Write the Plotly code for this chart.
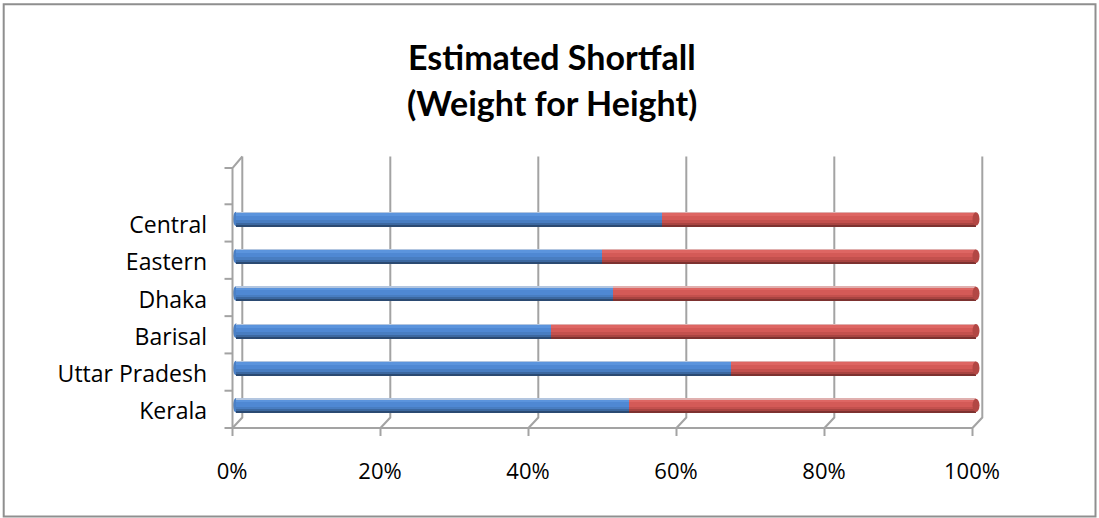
import plotly.graph_objects as go

# ---- data -------------------------------------------------------------
categories = ["Kerala", "Uttar Pradesh", "Barisal", "Dhaka", "Eastern", "Central"]
series_1 = [53.1, 66.9, 42.6, 50.9, 49.5, 57.5]     # blue segment (%)
series_2 = [46.9, 33.1, 57.4, 49.1, 50.5, 42.5]     # red segment (%)
x_ticks = [0, 20, 40, 60, 80, 100]
x_tick_labels = ["0%", "20%", "40%", "60%", "80%", "100%"]
title_lines = ["Estimated Shortfall", "(Weight for Height)"]

# ---- geometry ---------------------------------------------------------
W, H = 1099, 518
# pixel placement of the bar plane
X0_PX, X100_PX = 236.0, 976.0          # 0% and 100% of the bars
SLOT_PX = 37.286                       # height of one category slot
TOP_SLOT_PX = 163.0                    # pixel row of y = 6.5 (top of slots)
PX_X = (X100_PX - X0_PX) / 100.0
PX_Y = SLOT_PX

# the plotting rectangle is a little larger than the bar plane so the
# walls, floor and tick marks of the 3-D frame fit inside it
PL, PR, PT, PB = 222, 988, 150, 442
X_RANGE = [(PL - X0_PX) / PX_X, 100 + (PR - X100_PX) / PX_X]
Y_RANGE = [6.5 - (PB - TOP_SLOT_PX) / PX_Y, 6.5 + (TOP_SLOT_PX - PT) / PX_Y]
ML, MR, MT, MB = PL, W - PR, PT, H - PB
PW, PH = PR - PL, PB - PT


def dx(px):
    return px / PX_X


def dy(px):
    return px / PX_Y


# depth offsets (pixels) of the front and back planes relative to the bars
FRONT = (-3.5, -4.0)
BACK = (6.3, 6.5)
GRID = "#a3a3a3"
GRID_W = 2

ypos = list(range(len(categories)))
bar_px = 14.5
half = dy(bar_px) / 2

# cylinder shading, top to bottom: (thickness px, colour)
blue_bands = [(1.5, "#b3c6e0"), (2.5, "#5b94dd"), (4.5, "#4f88d3"),
              (2.5, "#487dc1"), (2.0, "#3c68a0"), (1.5, "#2b4a72")]
red_bands = [(1.5, "#e0b0af"), (2.5, "#de6663"), (4.5, "#d45a57"),
             (2.5, "#c3504d"), (2.0, "#a84441"), (1.5, "#7d3230")]

fig = go.Figure()


def add_cylinder(values, bases, bands, name):
    top = half
    for thick, colour in bands:
        w = dy(thick)
        fig.add_trace(go.Bar(
            orientation="h", y=ypos, x=values, base=bases,
            width=w, offset=top - w,
            marker=dict(color=colour, line=dict(width=0)),
            name=name, showlegend=False, hoverinfo="x+y",
        ))
        top -= w


add_cylinder(series_1, [0] * len(series_1), blue_bands, "Series 1")
add_cylinder(series_2, series_1, red_bands, "Series 2")

shapes = []

# rounded ends of the cylinders
for i, (a, b) in enumerate(zip(series_1, series_2)):
    shapes.append(dict(type="circle", xref="x", yref="y", xsizemode="pixel",
                       xanchor=0, x0=-3, x1=3, y0=i - half, y1=i + half,
                       fillcolor="#4a80c6", line=dict(width=0), layer="below"))
    shapes.append(dict(type="circle", xref="x", yref="y", xsizemode="pixel",
                       xanchor=a + b, x0=-3.5, x1=3.5, y0=i - half * 0.92,
                       y1=i + half * 0.92, fillcolor="#b24744",
                       line=dict(width=0), layer="above"))

y_lo, y_hi = -0.5, 6.5
fy_lo, fy_hi = y_lo + dy(FRONT[1]), y_hi + dy(FRONT[1]) - dy(1)
by_lo, by_hi = y_lo + dy(BACK[1]), y_hi + dy(BACK[1])

# back-wall gridlines, floor diagonals and front tick marks
for v in x_ticks:
    fx, bx = v + dx(FRONT[0]), v + dx(BACK[0])
    shapes.append(dict(type="path", xref="x", yref="y",
                       path=f"M {fx},{fy_lo - dy(8)} L {fx},{fy_lo} "
                            f"L {bx},{by_lo} L {bx},{by_hi}",
                       line=dict(color=GRID, width=GRID_W), layer="below"))

# front edge of the floor
shapes.append(dict(type="line", xref="x", yref="y",
                   x0=0 + dx(FRONT[0]), x1=100 + dx(FRONT[0]),
                   y0=fy_lo, y1=fy_lo, line=dict(color=GRID, width=GRID_W),
                   layer="below"))

# side wall: front axis line and top edge
fx0, bx0 = 0 + dx(FRONT[0]), 0 + dx(BACK[0])
shapes.append(dict(type="path", xref="x", yref="y",
                   path=f"M {fx0},{fy_lo} L {fx0},{fy_hi} L {bx0},{by_hi}",
                   line=dict(color=GRID, width=GRID_W), layer="below"))

# category tick marks on the front axis
for k in range(len(categories) + 2):
    yk = y_lo + k + dy(FRONT[1])
    if k == len(categories) + 1:
        yk = fy_hi
    shapes.append(dict(type="line", xref="x", yref="y",
                       x0=fx0 - dx(8), x1=fx0, y0=yk, y1=yk,
                       line=dict(color=GRID, width=GRID_W), layer="below"))


# outer chart border (paper coordinates from pixel positions)
def px_paper_x(px):
    return (px - ML) / PW


def px_paper_y(py):
    return (PB - py) / PH


shapes.append(dict(type="rect", xref="paper", yref="paper",
                   x0=px_paper_x(3.7), x1=px_paper_x(1095.5),
                   y0=px_paper_y(516.5), y1=px_paper_y(4.3),
                   line=dict(color="#8f8f8f", width=2), fillcolor="rgba(0,0,0,0)",
                   layer="below"))

x_label_font = dict(family="Open Sans", size=22, color="#000000")
y_label_font = dict(family="Open Sans", size=23, color="#000000")
title_font = dict(family="Lato", size=34, color="#000000", weight="bold")

annotations = [
    dict(text=title_lines[0], xref="paper", yref="paper",
         x=px_paper_x(552), y=px_paper_y(57), xanchor="center", yanchor="middle",
         showarrow=False, font=title_font),
    dict(text=title_lines[1], xref="paper", yref="paper",
         x=px_paper_x(552), y=px_paper_y(103), xanchor="center", yanchor="middle",
         showarrow=False, font=title_font),
]

fig.update_layout(
    width=W, height=H,
    margin=dict(l=ML, r=MR, t=MT, b=MB, pad=0),
    paper_bgcolor="#ffffff", plot_bgcolor="rgba(0,0,0,0)",
    barmode="overlay", bargap=0,
    showlegend=False,
    shapes=shapes, annotations=annotations,
    xaxis=dict(range=X_RANGE, tickvals=x_ticks, ticktext=x_tick_labels,
               showgrid=False, zeroline=False, showline=False, ticks="",
               ticklabelshift=-4, ticklabelstandoff=14,
               tickfont=x_label_font, fixedrange=True),
    yaxis=dict(range=Y_RANGE, tickvals=ypos, ticktext=categories,
               showgrid=False, zeroline=False, showline=False, ticks="",
               ticklabelshift=6, ticklabelstandoff=14,
               tickfont=y_label_font, fixedrange=True),
)

fig.write_html("out.html")
